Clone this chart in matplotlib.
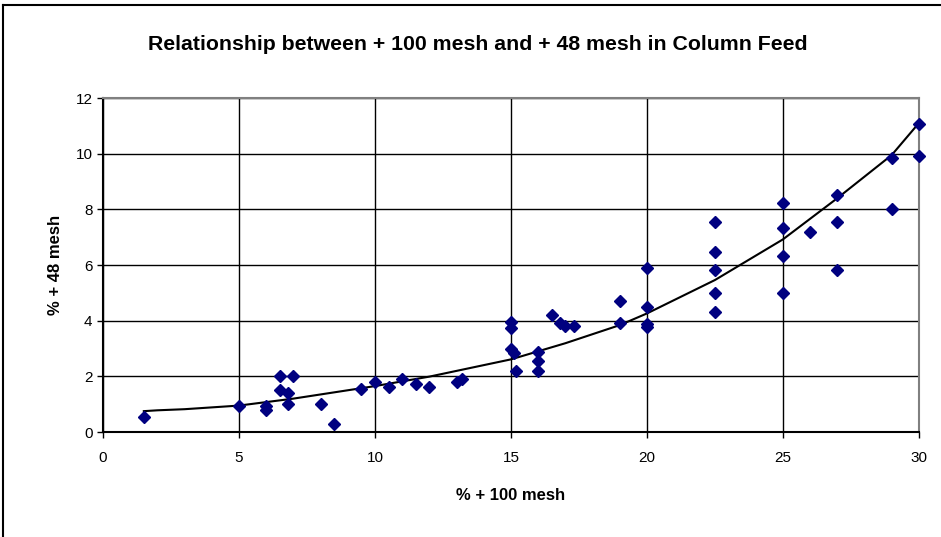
import matplotlib.pyplot as plt
from matplotlib.lines import Line2D

plt.rcParams['font.family'] = ['Liberation Sans', 'DejaVu Sans']

# measured points (+100 mesh %, +48 mesh %)
mesh100 = [1.5, 5.0, 6.0, 6.0, 6.5, 7.0, 6.5, 6.8, 6.8, 8.0, 8.5, 9.5, 10.0,
           10.5, 11.0, 11.5, 12.0, 13.0, 13.2, 15.0, 15.0, 15.0, 15.1, 15.2,
           16.0, 16.0, 16.0, 16.5, 16.8, 17.0, 17.3, 19.0, 19.0, 20.0, 20.0,
           20.0, 20.0, 22.5, 22.5, 22.5, 22.5, 22.5, 25.0, 25.0, 25.0, 25.0,
           26.0, 27.0, 27.0, 27.0, 29.0, 29.0, 30.0, 30.0]
mesh48 = [0.55, 0.95, 0.95, 0.8, 2.02, 2.02, 1.52, 1.4, 1.0, 1.0, 0.3, 1.53, 1.8,
          1.6, 1.92, 1.72, 1.62, 1.8, 1.9, 3.95, 3.72, 3.0, 2.85, 2.18,
          2.86, 2.56, 2.18, 4.2, 3.92, 3.82, 3.82, 4.72, 3.92, 5.9, 4.48,
          3.88, 3.78, 7.53, 6.48, 5.82, 5.01, 4.3, 8.22, 7.32, 6.32, 5.01,
          7.2, 8.52, 7.53, 5.82, 9.83, 8.0, 11.05, 9.9]

# trend line
trend_x = [1.5, 2, 3, 5, 7, 10, 12, 15, 17, 19, 20, 22.5, 25, 27, 29, 30]
trend_y = [0.75, 0.78, 0.82, 0.95, 1.2, 1.65, 1.99, 2.61, 3.19, 3.84, 4.26,
           5.46, 6.92, 8.4, 9.95, 11.1]

xticks = [0, 5, 10, 15, 20, 25, 30]
yticks = [0, 2, 4, 6, 8, 10, 12]

fig = plt.figure(figsize=(9.41, 5.37), dpi=100)
ax = fig.add_axes([0.1095, 0.1955, 0.867, 0.622])

ax.plot(trend_x, trend_y, color='black', lw=1.5, zorder=3)
ax.plot(mesh100, mesh48, linestyle='none', marker='D', ms=6,
        color='#000080', zorder=4, clip_on=False)

ax.set_xlim(0, 30)
ax.set_ylim(0, 12)
ax.set_xticks(xticks)
ax.set_yticks(yticks)
ax.grid(True, color='black', lw=1)
ax.set_axisbelow(True)
ax.tick_params(labelsize=11, length=4, width=1, color='black')
ax.tick_params(axis='x', pad=10)

for s in ['top', 'right']:
    ax.spines[s].set_color('#808080')
    ax.spines[s].set_linewidth(1.5)
for s in ['left', 'bottom']:
    ax.spines[s].set_color('black')
    ax.spines[s].set_linewidth(1.5)

ax.set_xlabel('% + 100 mesh', fontsize=12, fontweight='bold', labelpad=16)
ax.set_ylabel('% + 48 mesh', fontsize=12, fontweight='bold', labelpad=9)
fig.text(0.508, 0.917, 'Relationship between + 100 mesh and + 48 mesh in Column Feed',
         ha='center', va='center', fontsize=15.3, fontweight='bold')

# outer chart border (left and top edges visible)
fig.add_artist(Line2D([0.0035, 0.0035], [0.0, 0.991], color='black', lw=1.5))
fig.add_artist(Line2D([0.0035, 1.0], [0.991, 0.991], color='black', lw=1.5))

fig.savefig('out.png', dpi=100)
